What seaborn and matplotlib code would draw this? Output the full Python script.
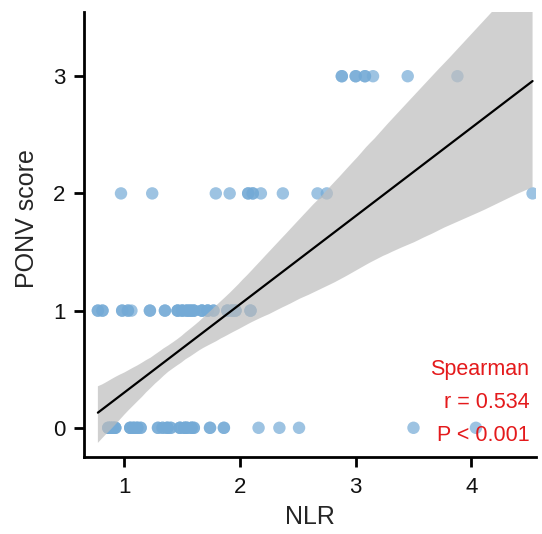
import numpy as np
import pandas as pd
import matplotlib
matplotlib.use('Agg')
import matplotlib.pyplot as plt
import seaborn as sns

# NLR positions for each PONV score, with the estimated
# number of overlapping patients at each position (darker spots = more)
nlr_score0 = [0.86, 0.88, 0.90, 0.92, 1.05, 1.08, 1.11, 1.14, 1.29, 1.33, 1.37, 1.40,
              1.48, 1.52, 1.54, 1.58, 1.60, 1.74, 1.86, 2.16, 2.34, 2.51, 3.50, 4.04]
n_score0 = [3, 3, 3, 3, 3, 3, 3, 2, 2, 2, 3, 2,
            3, 3, 3, 3, 2, 2, 2, 1, 1, 1, 1, 1]
nlr_score1 = [0.77, 0.81, 0.98, 1.03, 1.06, 1.22, 1.35, 1.46, 1.50, 1.54, 1.57, 1.60,
              1.67, 1.72, 1.77, 1.89, 1.93, 1.96, 2.09]
n_score1 = [2, 2, 2, 2, 1, 2, 2, 3, 3, 3, 3, 3,
            3, 3, 2, 3, 3, 3, 3]
nlr_score2 = [0.97, 1.24, 1.79, 1.91, 2.07, 2.11, 2.18, 2.37, 2.67, 2.75, 4.53]
n_score2 = [1, 1, 1, 1, 2, 2, 1, 1, 1, 1, 1]
nlr_score3 = [2.88, 3.00, 3.08, 3.15, 3.45, 3.88]
n_score3 = [2, 2, 2, 1, 1, 1]

groups = [(0, nlr_score0, n_score0), (1, nlr_score1, n_score1),
          (2, nlr_score2, n_score2), (3, nlr_score3, n_score3)]
df = pd.concat([pd.DataFrame({'NLR': np.repeat(x, n), 'PONV': score})
                for score, x, n in groups], ignore_index=True)

sns.set_style('white')
plt.rcParams['font.family'] = ['Liberation Sans', 'DejaVu Sans']

fig = plt.figure(figsize=(5.42, 5.34), dpi=100)
ax = fig.add_axes([0.155, 0.144, 0.834, 0.834])

sns.scatterplot(data=df, x='NLR', y='PONV', ax=ax, color='#74aad6', alpha=0.7,
                s=80, edgecolor='none', zorder=2)
sns.regplot(data=df, x='NLR', y='PONV', ax=ax, scatter=False, ci=95,
            color='black', line_kws={'linewidth': 1.6, 'zorder': 4})
# make the band look like ggplot's grey ribbon, drawn over the points
for coll in ax.collections[1:]:
    coll.set_facecolor('#bdbdbd')
    coll.set_alpha(0.7)
    coll.set_edgecolor('none')
    coll.set_zorder(3)

ax.set_xlim(0.65, 4.56)
ax.set_ylim(-0.25, 3.55)
ax.set_xticks([1, 2, 3, 4])
ax.set_yticks([0, 1, 2, 3])
ax.set_xlabel('NLR', fontsize=18, labelpad=5)
ax.set_ylabel('PONV score', fontsize=18)
ax.yaxis.set_label_coords(-0.10, 0.535)
ax.tick_params(axis='both', labelsize=16, length=7.5, width=2, direction='out',
               color='black', labelcolor='#111111', left=True, bottom=True)
ax.tick_params(axis='x', pad=7)
ax.tick_params(axis='y', pad=6)

for side in ['top', 'right']:
    ax.spines[side].set_visible(False)
for side in ['left', 'bottom']:
    ax.spines[side].set_linewidth(2)
    ax.spines[side].set_color('black')

ax.text(0.985, 0.122, 'Spearman\nr = 0.534\nP < 0.001', transform=ax.transAxes,
        ha='right', va='center', color='#e41a1c', fontsize=15.5, linespacing=1.75)

fig.savefig('out.png', dpi=100)
